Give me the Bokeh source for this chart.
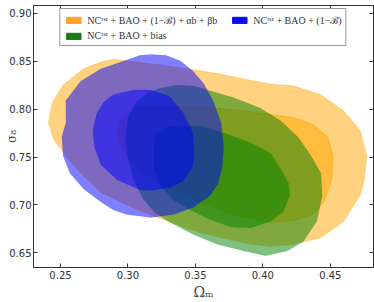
import numpy as np
from bokeh.plotting import figure
from bokeh.models import Range1d, LinearAxis, Legend, LegendItem, PrintfTickFormatter
from bokeh.embed import file_html
from bokeh.resources import INLINE

# --- contour vertices (Omega_m, sigma_8) ---
om_orange_95 = [0.241, 0.244, 0.252, 0.267, 0.280, 0.289, 0.300, 0.324, 0.344, 0.366, 0.391, 0.406,
                0.423, 0.443, 0.460, 0.472, 0.477, 0.475, 0.472, 0.460, 0.443, 0.423, 0.406, 0.391,
                0.354, 0.322, 0.304, 0.280, 0.265, 0.254, 0.245]
s8_orange_95 = [0.786, 0.807, 0.825, 0.842, 0.849, 0.852, 0.850, 0.846, 0.842, 0.837, 0.830, 0.826,
                0.824, 0.815, 0.798, 0.778, 0.751, 0.725, 0.710, 0.683, 0.666, 0.659, 0.657, 0.659,
                0.671, 0.687, 0.697, 0.713, 0.733, 0.751, 0.768]

om_orange_68 = [0.293, 0.294, 0.300, 0.309, 0.324, 0.346, 0.366, 0.387, 0.406, 0.423, 0.437, 0.448,
                0.452, 0.451, 0.445, 0.437, 0.423, 0.406, 0.378, 0.354, 0.331, 0.317, 0.304, 0.296]
s8_orange_68 = [0.774, 0.786, 0.798, 0.803, 0.803, 0.802, 0.801, 0.798, 0.794, 0.791, 0.784, 0.771,
                0.751, 0.727, 0.703, 0.690, 0.684, 0.682, 0.690, 0.703, 0.718, 0.728, 0.742, 0.758]

om_green_95 = [0.298, 0.300, 0.306, 0.315, 0.324, 0.337, 0.349, 0.359, 0.378, 0.398, 0.413, 0.426,
               0.435, 0.443, 0.444, 0.440, 0.430, 0.418, 0.402, 0.386, 0.366, 0.349, 0.331, 0.320,
               0.311, 0.304, 0.300]
s8_green_95 = [0.771, 0.791, 0.807, 0.817, 0.822, 0.825, 0.824, 0.820, 0.812, 0.801, 0.788, 0.771,
               0.753, 0.733, 0.710, 0.683, 0.662, 0.652, 0.647, 0.652, 0.659, 0.669, 0.682, 0.692,
               0.707, 0.727, 0.749]

om_green_68 = [0.319, 0.320, 0.326, 0.337, 0.354, 0.371, 0.391, 0.406, 0.413, 0.419, 0.420, 0.415,
               0.406, 0.391, 0.376, 0.359, 0.346, 0.334, 0.324, 0.319]
s8_green_68 = [0.761, 0.773, 0.780, 0.783, 0.782, 0.775, 0.765, 0.754, 0.738, 0.723, 0.710, 0.693,
               0.683, 0.676, 0.677, 0.686, 0.695, 0.705, 0.720, 0.740]

om_blue_95 = [0.252, 0.251, 0.254, 0.254, 0.265, 0.280, 0.297, 0.309, 0.317, 0.328, 0.339, 0.348,
              0.356, 0.363, 0.369, 0.371, 0.370, 0.367, 0.361, 0.349, 0.334, 0.317, 0.299, 0.289,
              0.280, 0.267, 0.257]
s8_blue_95 = [0.751, 0.771, 0.786, 0.809, 0.829, 0.842, 0.850, 0.856, 0.857, 0.856, 0.850, 0.840,
              0.827, 0.809, 0.786, 0.761, 0.740, 0.723, 0.710, 0.698, 0.690, 0.687, 0.690, 0.695,
              0.703, 0.717, 0.733]

om_blue_68 = [0.274, 0.277, 0.282, 0.289, 0.304, 0.317, 0.331, 0.341, 0.348, 0.349, 0.348, 0.341,
              0.331, 0.317, 0.309, 0.292, 0.280, 0.275]
s8_blue_68 = [0.778, 0.796, 0.807, 0.815, 0.820, 0.820, 0.813, 0.796, 0.776, 0.756, 0.740, 0.725,
              0.718, 0.715, 0.716, 0.726, 0.742, 0.761]

legend_labels = ["NCᵗˢᶻ + BAO + (1−ℬ) + αb + βb",
                 "NCᵗˢᶻ + BAO + bias",
                 "NCᵗˢᶻ + BAO + (1−ℬ)"]
x_ticks = [0.25, 0.30, 0.35, 0.40, 0.45]
y_ticks = [0.65, 0.70, 0.75, 0.80, 0.85, 0.90]

ORANGE = "#FFA500"
GREEN = "#008000"
BLUE = "#0000FF"

p = figure(width=374, height=302, output_backend="svg", toolbar_location=None,
           x_range=Range1d(0.23, 0.482), y_range=Range1d(0.6348, 0.908),
           min_border_left=33, min_border_right=1, min_border_top=5, min_border_bottom=28)
p.background_fill_color = "white"
p.border_fill_color = "white"
p.outline_line_color = "#333333"
p.xgrid.visible = False
p.ygrid.visible = False

def contour(om, s8, color, lw_alpha):
    p.patch(om, s8, fill_color=color, fill_alpha=0.5, line_color=color,
            line_alpha=lw_alpha, line_width=0.8, line_join="round")

contour(om_orange_95, s8_orange_95, ORANGE, 0.4)
contour(om_orange_68, s8_orange_68, ORANGE, 0.8)
contour(om_green_95, s8_green_95, GREEN, 0.1)
contour(om_green_68, s8_green_68, GREEN, 0.1)
contour(om_blue_95, s8_blue_95, BLUE, 0.1)
contour(om_blue_68, s8_blue_68, BLUE, 0.1)

# legend swatches (proxy glyphs that are not drawn in the plot area)
nan = [np.nan]
r_o = p.quad(left=nan, right=nan, top=nan, bottom=nan, fill_color="#FFA229", line_color="#FFA229")
r_g = p.quad(left=nan, right=nan, top=nan, bottom=nan, fill_color="#1B7A17", line_color="#1B7A17")
r_b = p.quad(left=nan, right=nan, top=nan, bottom=nan, fill_color="#0A0AF0", line_color="#0A0AF0")

pad = "\u00a0" * 4
legend = Legend(items=[LegendItem(label=legend_labels[0] + pad, renderers=[r_o]),
                       LegendItem(label=legend_labels[1], renderers=[r_g]),
                       LegendItem(label=legend_labels[2], renderers=[r_b])],
                ncols=2, location="top_center")
legend.label_text_font = "Liberation Serif"
legend.label_text_font_size = "10px"
legend.label_text_color = "#333333"
legend.glyph_width = 18
legend.glyph_height = 8
legend.label_height = 10
legend.label_standoff = 5
legend.spacing = 3
legend.padding = 4
legend.margin = 3
legend.border_line_color = "#333333"
legend.border_line_width = 1
legend.background_fill_alpha = 1
p.add_layout(legend)

for ax in (p.xaxis[0], p.yaxis[0]):
    ax.major_tick_in = 4
    ax.major_tick_out = 0
    ax.minor_tick_in = 2
    ax.minor_tick_out = 0
    ax.axis_line_color = "#333333"
    ax.major_tick_line_color = "#333333"
    ax.minor_tick_line_color = "#333333"
    ax.major_label_text_font = "DejaVu Sans"
    ax.major_label_text_font_size = "10px"
    ax.major_label_text_color = "#333333"
    ax.major_label_standoff = 3
    ax.formatter = PrintfTickFormatter(format="%.2f")

p.xaxis.ticker = x_ticks
p.yaxis.ticker = y_ticks
p.xaxis[0].ticker.num_minor_ticks = 5
p.yaxis[0].ticker.num_minor_ticks = 5
p.xaxis.axis_label = "Ωₘ"
p.xaxis.axis_label_text_font = "DejaVu Serif"
p.xaxis.axis_label_text_font_style = "normal"
p.xaxis.axis_label_text_font_size = "14px"
p.xaxis.axis_label_standoff = 2
p.yaxis.major_label_standoff = 2
p.yaxis.axis_label = "σ₈"
p.yaxis.axis_label_text_font = "DejaVu Serif"
p.yaxis.axis_label_text_font_style = "normal"
p.yaxis.axis_label_text_font_size = "12px"
p.yaxis.axis_label_standoff = -13

for loc in ("above", "right"):
    ax = LinearAxis(ticker=(x_ticks if loc == "above" else y_ticks))
    ax.ticker.num_minor_ticks = 5
    ax.major_tick_in = 4
    ax.major_tick_out = 0
    ax.minor_tick_in = 2
    ax.minor_tick_out = 0
    ax.major_label_text_color = None
    ax.major_label_standoff = 0
    ax.major_label_overrides = {t: "" for t in (x_ticks if loc == "above" else y_ticks)}
    ax.axis_line_color = "#333333"
    ax.major_tick_line_color = "#333333"
    ax.minor_tick_line_color = "#333333"
    p.add_layout(ax, loc)

open("out.html", "w").write(file_html(p, INLINE))
